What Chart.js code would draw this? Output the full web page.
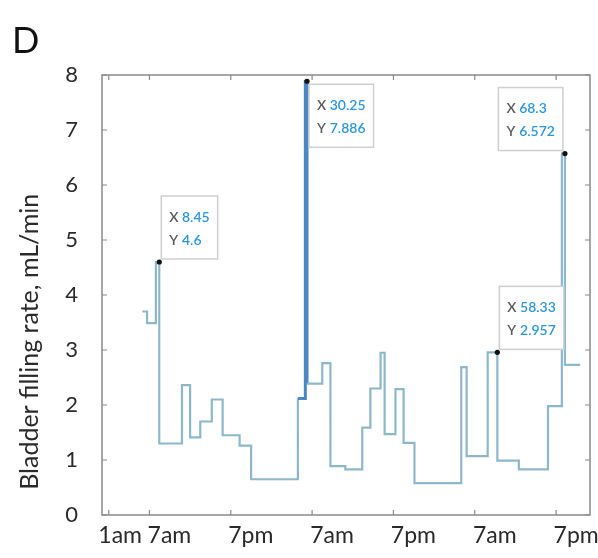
<!DOCTYPE html>
<html>
<head>
<meta charset="utf-8">
<title>Bladder filling rate</title>
<script src="https://cdn.jsdelivr.net/npm/chart.js@4.4.1/dist/chart.umd.min.js"></script>
<style>
  html, body { margin: 0; padding: 0; background: #fff; }
  #wrap { width: 598px; height: 558px; }
</style>
</head>
<body>
<div id="wrap"><canvas id="rateChart" width="598" height="558"></canvas></div>
<script>
// hour at which each step starts (0 = midnight, day 1) and the rate held from there, mL/min
const stepHours = [5.95, 6.65, 7.95, 8.45, 11.8, 13.0, 14.5, 16.2, 17.8, 20.3, 22.0, 28.9, 30.0, 30.25,
                   32.5, 33.7, 35.9, 38.4, 39.6, 41.1, 41.7, 43.3, 44.5, 46.1, 53.0, 53.8, 56.9, 58.33,
                   61.5, 65.8, 67.85, 68.3, 70.55];
const stepRates = [3.70, 3.49, 4.6, 1.30, 2.36, 1.41, 1.70, 2.10, 1.45, 1.26, 0.65, 2.12, 7.886, 2.39,
                   2.76, 0.89, 0.83, 1.59, 2.30, 2.95, 1.47, 2.29, 1.31, 0.58, 2.69, 1.07, 2.957, 0.99,
                   0.83, 1.98, 6.572, 2.73, 2.73];

// x axis ticks
const tickHours = [1, 7, 19, 31, 43, 55, 67];
const tickLabels = ['1am', '7am', '7pm', '7am', '7pm', '7am', '7pm'];

// data tips shown on the plot
const tipHours = [8.45, 30.25, 58.33, 68.3];
const tipRates = [4.6, 7.886, 2.957, 6.572];

const FONT = 'Lato, "Open Sans", sans-serif';

// box + inward tick marks, like the matlab axes
const framePlugin = {
  id: 'frame',
  afterDatasetsDraw(chart) {
    const { ctx, chartArea: a, scales } = chart;
    ctx.save();
    ctx.strokeStyle = '#8a8a8a';
    ctx.lineWidth = 1.5;
    ctx.strokeRect(a.left, a.top, a.right - a.left, a.bottom - a.top);
    ctx.lineWidth = 1.2;
    ctx.beginPath();
    scales.x.ticks.forEach(t => {
      const px = scales.x.getPixelForValue(t.value);
      ctx.moveTo(px, a.bottom); ctx.lineTo(px, a.bottom - 5);
      ctx.moveTo(px, a.top); ctx.lineTo(px, a.top + 5);
    });
    scales.y.ticks.forEach(t => {
      const py = scales.y.getPixelForValue(t.value);
      ctx.moveTo(a.left, py); ctx.lineTo(a.left + 5, py);
      ctx.moveTo(a.right, py); ctx.lineTo(a.right - 5, py);
    });
    ctx.stroke();
    ctx.restore();
  }
};

// matlab style data tips
const tipPlugin = {
  id: 'dataTips',
  afterDatasetsDraw(chart) {
    const { ctx, scales: { x, y } } = chart;
    // which way each box sits from its point: [dx, dy]
    const side = [[1, -1], [1, 1], [1, -1], [-1, -1]];
    ctx.save();
    ctx.font = '600 14px ' + FONT;
    tipHours.forEach((h, i) => {
      const px = x.getPixelForValue(h);
      const py = y.getPixelForValue(tipRates[i]);
      const l1 = String(h), l2 = String(tipRates[i]);
      const pre = ctx.measureText('X ').width;
      const w = 16 + pre + Math.max(ctx.measureText(l1).width, ctx.measureText(l2).width);
      const hgt = 63;
      const bx = side[i][0] > 0 ? px + 2 : px - 2 - w;
      const by = side[i][1] > 0 ? py + 3 : py - 3 - hgt;

      ctx.fillStyle = '#ffffff';
      ctx.strokeStyle = '#cfcfcf';
      ctx.lineWidth = 1.5;
      ctx.fillRect(bx, by, w, hgt);
      ctx.strokeRect(bx, by, w, hgt);

      ctx.textBaseline = 'middle';
      ctx.textAlign = 'left';
      ctx.fillStyle = '#5a5a5a';
      ctx.fillText('X', bx + 8, by + 21);
      ctx.fillText('Y', bx + 8, by + 44);
      ctx.fillStyle = '#2b96dc';
      ctx.fillText(l1, bx + 8 + pre, by + 21);
      ctx.fillText(l2, bx + 8 + pre, by + 44);

      ctx.fillStyle = '#111';
      ctx.beginPath();
      ctx.arc(px, py, 2.6, 0, Math.PI * 2);
      ctx.fill();
    });
    ctx.restore();
  }
};

const ctx = document.getElementById('rateChart').getContext('2d');
const rateChart = new Chart(ctx, {
  type: 'line',
  data: {
    datasets: [{
      data: stepHours.map((h, i) => ({ x: h, y: stepRates[i] })),
      stepped: true,
      borderColor: '#8db8cc',
      borderWidth: 2.2,
      pointRadius: 0,
      fill: false,
      segment: {
        borderColor: s => (s.p0.parsed.y > 7 || s.p1.parsed.y > 7) ? '#4a88c4' : undefined,
        borderWidth: s => (s.p0.parsed.y > 7 || s.p1.parsed.y > 7) ? 3 : undefined
      }
    }]
  },
  options: {
    responsive: false,
    animation: false,
    layout: { padding: { left: 12, right: 8, top: 0, bottom: 0 } },
    plugins: {
      legend: { display: false },
      tooltip: { enabled: false },
      title: {
        display: true,
        text: 'D',
        align: 'start',
        color: '#111',
        font: { family: FONT, size: 36, weight: 'normal', lineHeight: 1.2 },
        padding: { top: 20, bottom: 11.8 }
      }
    },
    scales: {
      x: {
        type: 'linear',
        min: 0,
        max: 72,
        afterBuildTicks: axis => { axis.ticks = tickHours.map(v => ({ value: v })); },
        afterFit: axis => { axis.height = 43; },
        grid: { drawOnChartArea: false, drawTicks: false },
        border: { display: false },
        ticks: {
          autoSkip: false,
          maxRotation: 0,
          padding: 7,
          labelOffset: 20,
          color: '#2a2a2a',
          font: { family: FONT, size: 23 },
          // first label sits a bit left of the rest in the original, keep it clear of 7am
          callback: v => {
            const i = tickHours.indexOf(v);
            return i === 0 ? tickLabels[i] + '\u2003' : tickLabels[i];
          }
        }
      },
      y: {
        min: 0,
        max: 8,
        afterFit: axis => { axis.width = 90; },
        grid: { drawOnChartArea: false, drawTicks: false },
        border: { display: false },
        ticks: {
          stepSize: 1,
          padding: 24,
          color: '#2a2a2a',
          font: { family: FONT, size: 22 }
        },
        title: {
          display: true,
          align: 'start',
          text: '\u2003 Bladder filling rate, mL/min',
          color: '#2a2a2a',
          font: { family: FONT, size: 25 },
          padding: { top: 3, bottom: 0 }
        }
      }
    }
  },
  plugins: [framePlugin, tipPlugin]
});
</script>
</body>
</html>
